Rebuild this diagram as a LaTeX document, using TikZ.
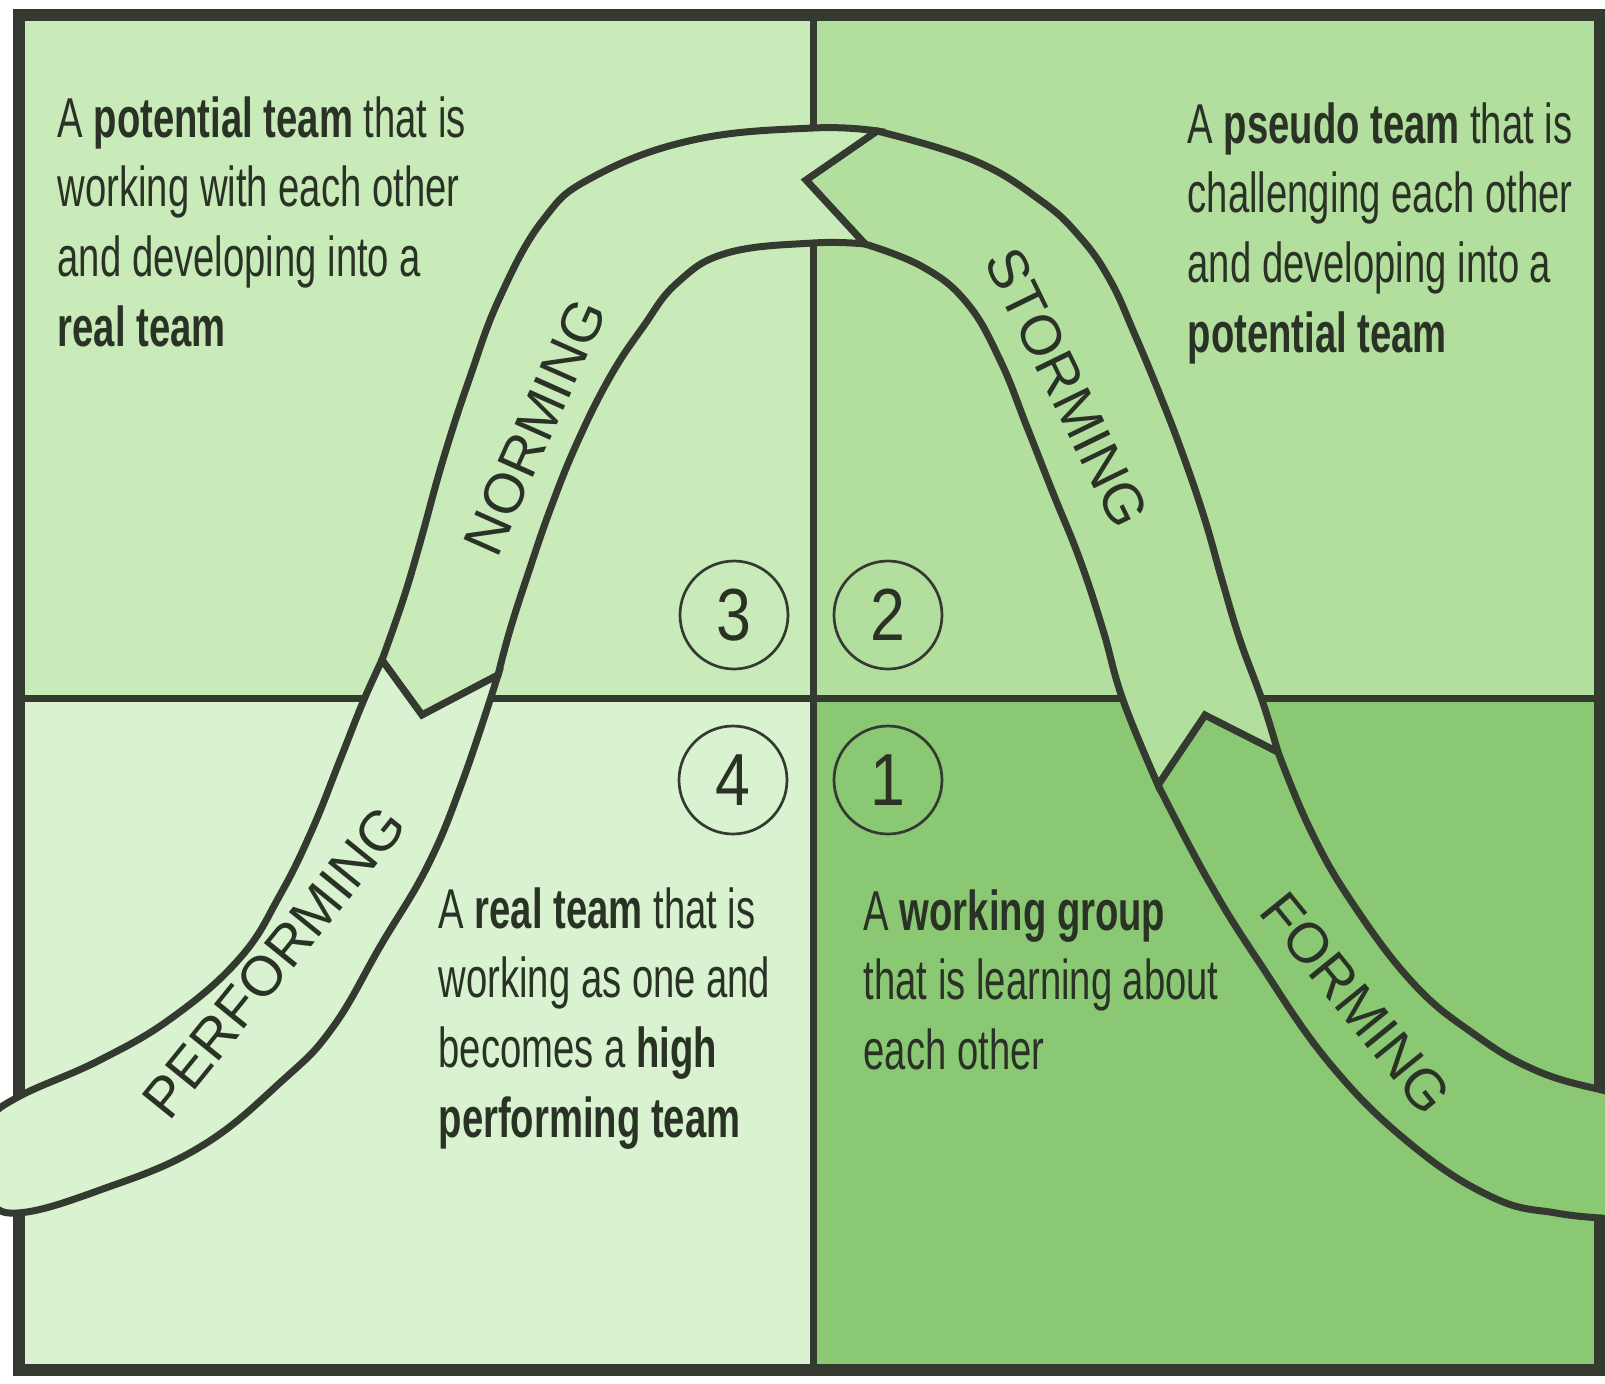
\documentclass[tikz,border=0pt]{standalone}
\usepackage{fontspec}
\setmainfont{Liberation Sans}[FakeStretch=0.68]
\newfontfamily\stagefont{Liberation Sans}
\newfontfamily\numfont{Liberation Sans}[FakeStretch=0.85]
\usepackage{xcolor}
\usepackage{tikz}
\usetikzlibrary{positioning}

\definecolor{inkline}{HTML}{343A30}
\definecolor{inktext}{HTML}{2A3226}
\definecolor{quadTL}{HTML}{C9EBBA}
\definecolor{quadTR}{HTML}{B3DF9E}
\definecolor{quadBL}{HTML}{D9F2CF}
\definecolor{quadBR}{HTML}{8BC874}

\begin{document}
\begin{tikzpicture}[
x=0.1mm, y=-0.1mm,
every node/.style={text=inktext},
divline/.style={draw=inkline, line width=0.7mm},
frameline/.style={draw=inkline, line width=1.2mm},
bandseg/.style={draw=inkline, line width=0.7mm, line join=miter},
infotext/.style={anchor=base west, inner sep=0pt, text width=6cm, align=flush left,
font=\fontsize{16}{19.9}\selectfont},
stagelabel/.style={font=\stagefont\fontsize{16}{19}\selectfont, inner sep=0pt},
numcircle/.style={circle, draw=inkline, line width=0.27mm, minimum size=10.8mm,
inner sep=0pt, font=\numfont\fontsize{21}{24}\selectfont}
]

\useasboundingbox (0,0) rectangle (1605,1383);
\clip (0,0) rectangle (1605,1383);
\fill[white] (0,0) rectangle (1605,1383);

% quadrants
\fill[quadTL] (19,15) rectangle (813,698);
\fill[quadTR] (813,15) rectangle (1600,698);
\fill[quadBL] (19,698) rectangle (813,1370);
\fill[quadBR] (813,698) rectangle (1600,1370);
\draw[divline] (813,15) -- (813,1370);
\draw[divline] (19,698) -- (1600,698);
\draw[frameline] (19,15) rectangle (1600,1370);

% band
\filldraw[bandseg, fill=quadBR] (1158,785) -- (1205,715) -- plot[smooth, tension=0.7] coordinates {(1278,752) (1310,829) (1351,901) (1413,983) (1474,1034) (1535,1070) (1602,1090) (1660,1100)} -- (1660,1230) -- plot[smooth, tension=0.7] coordinates {(1602,1218) (1556,1213) (1494,1198) (1413,1146) (1331,1065) (1259,962) (1208,880) (1158,785)};
\filldraw[bandseg, fill=quadTR] (806,180) -- plot[smooth, tension=0.7] coordinates {(877,131) (973,160) (1040,200) (1080,237) (1110,280) (1135,335) (1160,395) (1183,455) (1205,520) (1222,580) (1240,640) (1262,700) (1278,752)} -- (1205,715) -- plot[smooth, tension=0.7] coordinates {(1158,785) (1123,700) (1103,630) (1080,560) (1053,493) (1027,427) (1000,360) (967,303) (923,267) (865,244)} -- cycle;
\filldraw[bandseg, fill=quadTL] (422,715) -- plot[smooth, tension=0.7] coordinates {(382,660) (403,600) (420,543) (443,460) (470,377) (500,297) (543,220) (593,177) (693,140) (813,128) (877,131)} -- (806,180) -- plot[smooth, tension=0.7] coordinates {(865,244) (813,243) (727,253) (677,283) (643,327) (610,377) (577,443) (550,510) (527,577) (510,630) (498,675)} -- cycle;
\filldraw[bandseg, fill=quadBL] (382,660) -- (422,715) -- plot[smooth, tension=0.7] coordinates {(498,675) (463,780) (428,865) (381,945) (333,1027) (283,1080) (200,1147) (100,1190) (17,1213) (-12,1196) (-24,1160) (-12,1122) (18,1097) (100,1060) (173,1017) (240,958) (280,895) (312,830) (340,760) (363,702) (382,660)} -- cycle;

\node[stagelabel, rotate=51] (performing) at (274,962) {PERFORMING};
\node[stagelabel, rotate=66] (norming) at (535,427) {NORMING};
\node[stagelabel, rotate=-64] (storming) at (1067,388) {STORMING};
\node[stagelabel, rotate=-51] (forming) at (1356,1003) {FORMING};

\node[numcircle] (num3) at (734,615) {3};
\node[numcircle] (num2) at (888,615) {2};
\node[numcircle] (num4) at (733,780) {4};
\node[numcircle] (num1) at (888,780) {1};

\node[infotext] (potential) at (57,137) {A \textbf{potential team} that is\\ working with each other\\ and developing into a\\ \textbf{real team}};
\node[infotext] (pseudo) at (1187,143) {A \textbf{pseudo team} that is\\ challenging each other\\ and developing into a\\ \textbf{potential team}};
\node[infotext] (realteam) at (438,928) {A \textbf{real team} that is\\ working as one and\\ becomes a \textbf{high}\\ \textbf{performing team}};
\node[infotext] (working) at (863,930) {A \textbf{working group}\\ that is learning about\\ each other};

\end{tikzpicture}
\end{document}
